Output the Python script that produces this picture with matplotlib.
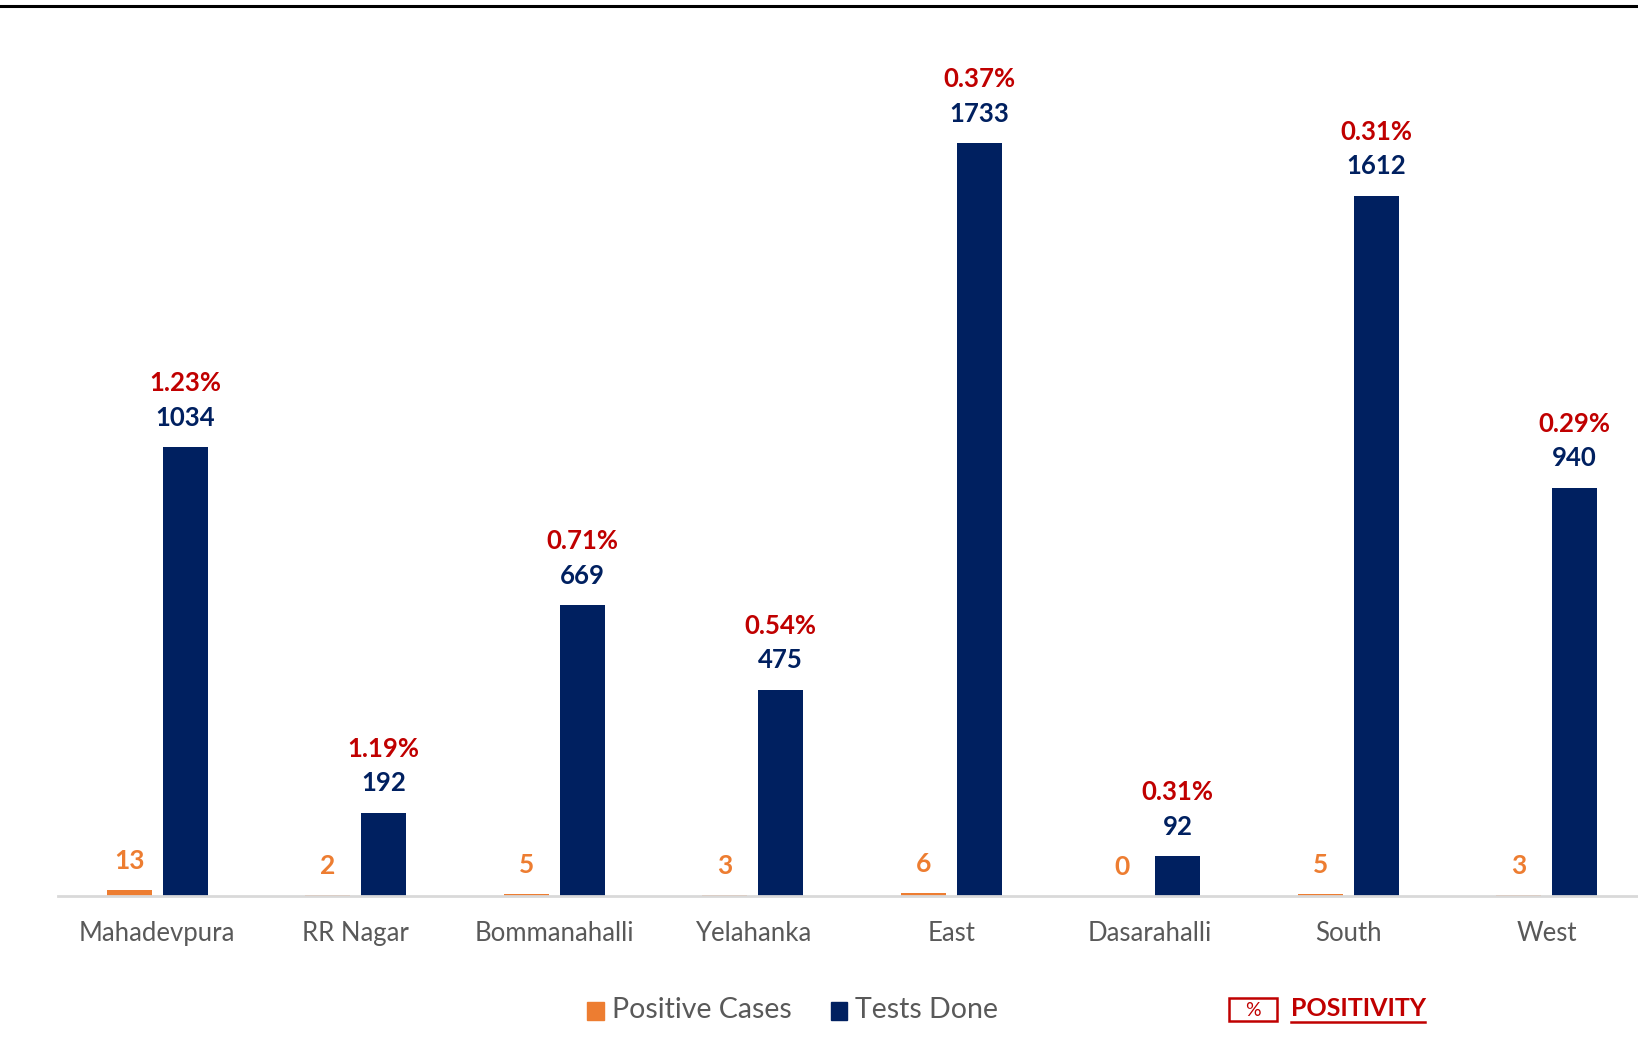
import matplotlib
matplotlib.use("Agg")
import matplotlib.pyplot as plt
from matplotlib.patches import Rectangle
from matplotlib.lines import Line2D
import numpy as np

categories = ["Mahadevpura", "RR Nagar", "Bommanahalli", "Yelahanka", "East", "Dasarahalli", "South", "West"]
positive_cases = [13, 2, 5, 3, 6, 0, 5, 3]
tests_done = [1034, 192, 669, 475, 1733, 92, 1612, 940]
positivity = ["1.23%", "1.19%", "0.71%", "0.54%", "0.37%", "0.31%", "0.31%", "0.29%"]

ORANGE = "#ED7D31"
NAVY = "#002060"
RED = "#C00000"
GRAY = "#595959"

plt.rcParams['font.family'] = ['Lato', 'DejaVu Sans']

W, H = 1638, 1052
fig = plt.figure(figsize=(W / 100, H / 100), dpi=100)
ax_left = 58
ax_w = 8 * 198.5
ax = fig.add_axes([ax_left / W, 1 - 896 / H, ax_w / W, (896 - 27) / H])

x = np.arange(len(categories))
bw = 0.227
off = 0.141
ax.bar(x - off, positive_cases, bw, color=ORANGE, zorder=2)
ax.bar(x + off, tests_done, bw, color=NAVY, zorder=2)

ax.set_xlim(-0.5, len(categories) - 0.5)
ax.set_ylim(0, 2000)

for xi, v in zip(x, positive_cases):
    ax.annotate(str(v), (xi - off, v), xytext=(0, 21), textcoords="offset points",
                ha="center", va="center", color=ORANGE, fontsize=19, fontweight="bold")
for xi, v, p in zip(x, tests_done, positivity):
    ax.annotate(str(v), (xi + off, v), xytext=(0, 21), textcoords="offset points",
                ha="center", va="center", color=NAVY, fontsize=18.5, fontweight="bold")
    ax.annotate(p, (xi + off, v), xytext=(0, 46), textcoords="offset points",
                ha="center", va="center", color=RED, fontsize=18.5, fontweight="bold")

for s in ["top", "right", "left"]:
    ax.spines[s].set_visible(False)
ax.spines["bottom"].set_color("#D9D9D9")
ax.spines["bottom"].set_linewidth(2)
ax.set_yticks([])
ax.set_xticks(x)
ax.set_xticklabels(categories, fontsize=18.5, color=GRAY)
ax.tick_params(axis="x", length=0, pad=18)

# top rule
fig.add_artist(Line2D([0, 1], [1 - 6 / H, 1 - 6 / H], color="black", lw=2.2, transform=fig.transFigure))

# legend
ly = 1 - 1010 / H
fig.add_artist(Rectangle((587 / W, 1 - 1020 / H), 17 / W, 18 / H, color=ORANGE, transform=fig.transFigure))
fig.text(612 / W, ly, "Positive Cases", fontsize=20.5, color=GRAY, va="center", ha="left")
fig.add_artist(Rectangle((831 / W, 1 - 1020 / H), 16 / W, 18 / H, color=NAVY, transform=fig.transFigure))
fig.text(855 / W, ly, "Tests Done", fontsize=20.5, color=GRAY, va="center", ha="left")
fig.add_artist(Rectangle((1229 / W, 1 - 1021 / H), 48 / W, 23 / H, fill=False, edgecolor=RED, lw=1.8,
                         transform=fig.transFigure))
fig.text(1253 / W, ly - 1 / H, "%", fontsize=14, color=RED, va="center", ha="center")
fig.text(1291 / W, ly + 2 / H, "POSITIVITY", fontsize=18, color=RED, va="center", ha="left", fontweight="bold")
fig.add_artist(Line2D([1291 / W, 1425 / W], [1 - 1022 / H, 1 - 1022 / H], color=RED, lw=1.8,
                      transform=fig.transFigure))

fig.savefig("out.png", dpi=100, facecolor="white")
